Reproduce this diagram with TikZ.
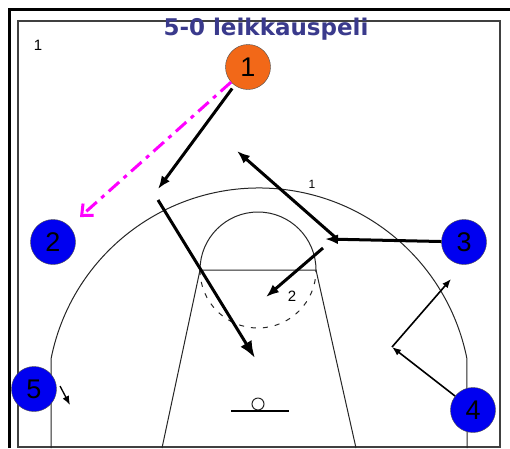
\documentclass[tikz,border=0pt]{standalone}
\usepackage{fontspec}
\setmainfont{Liberation Sans}
\newfontfamily\titlefont{DejaVu Sans}
\usetikzlibrary{arrows.meta}
\definecolor{courtblue}{RGB}{0,0,240}
\definecolor{pointguard}{RGB}{242,104,24}
\definecolor{titleblue}{RGB}{58,58,140}
\definecolor{passpink}{RGB}{255,0,255}

\begin{document}
\begin{tikzpicture}[x=1pt, y=-1pt,
	player/.style={circle, draw=black!70, fill=courtblue, minimum size=45pt, inner sep=0pt, font=\fontsize{27}{27}\selectfont},
	courtline/.style={line width=1pt, black!85},
	cutline/.style={line width=3pt, -{Latex[length=13pt, width=10pt]}},
	moveline/.style={line width=1.6pt, -{Latex[length=9pt, width=7pt]}},
	passline/.style={line width=3pt, passpink, dash pattern=on 14pt off 6pt on 4pt off 6pt, -{Straight Barb[length=9pt, width=16pt]}},
	numlabel/.style={font=\fontsize{15}{15}\selectfont}]
			\useasboundingbox (0,0) rectangle (510,448);
			\fill [white] (0,0) rectangle (510,448);

			\draw [line width=3pt] (9,448) -- (9,9.5) -- (510,9.5);
			\draw [line width=1.5pt, black!75] (18,21) rectangle (500,447);

			\draw [courtline] (51,448) -- (51,359) arc[start angle=168.85, end angle=11.15, radius=212pt] -- (467,448);
			\draw [courtline] (162,448) -- (200,270) -- (316,270) -- (356,448);
			\draw [courtline] (200,270) arc[start angle=180, end angle=0, radius=58pt];
			\draw [courtline, dash pattern=on 5pt off 7pt] (200,270) arc[start angle=180, end angle=360, radius=58pt];
			\draw [courtline] (258,404) circle[radius=6pt];
			\draw [line width=1.3pt] (231,411) -- (289,411);

			\node [font=\titlefont\bfseries\fontsize{23}{23}\selectfont, text=titleblue] (title) at (266,29) {5-0 leikkauspeli};
			\node [numlabel] (phase) at (38,45) {1};
			\node [font=\fontsize{12}{12}\selectfont] (arclabel) at (312,184) {1};
			\node [numlabel] (cutlabel) at (292,296) {2};

			\node [player, fill=pointguard] (p1) at (248,67) {1};
			\node [player] (p2) at (53,242) {2};
			\node [player] (p3) at (464,242) {3};
			\node [player] (p4) at (473,410) {4};
			\node [player] (p5) at (34,389) {5};

			\coordinate (passend) at (80,217);
			\coordinate (cutturn) at (158,189);
			\coordinate (cutstart) at (158,200);
			\coordinate (cutend) at (255,358);
			\coordinate (flash) at (325,239);
			\coordinate (flashstart) at (335,237);
			\coordinate (flashtop) at (237,151);
			\coordinate (dropstart) at (323,248);
			\coordinate (dropend) at (266,297);
			\coordinate (wingturn) at (392,347);
			\coordinate (wingend) at (451,279);
			\coordinate (cornerstart) at (60,386);
			\coordinate (cornerend) at (70,405);

			\draw [passline] (p1) -- (passend);
			\draw [cutline, shorten <=4pt] (p1) -- (cutturn);
			\draw [cutline, -{Latex[length=17pt, width=13pt]}] (cutstart) -- (cutend);
			\draw [cutline] (p3) -- (flash);
			\draw [cutline] (flashstart) -- (flashtop);
			\draw [cutline] (dropstart) -- (dropend);
			\draw [moveline] (p4) -- (wingturn);
			\draw [moveline] (wingturn) -- (wingend);
			\draw [moveline, line width=1.3pt] (cornerstart) -- (cornerend);
		\end{tikzpicture}
\end{document}
